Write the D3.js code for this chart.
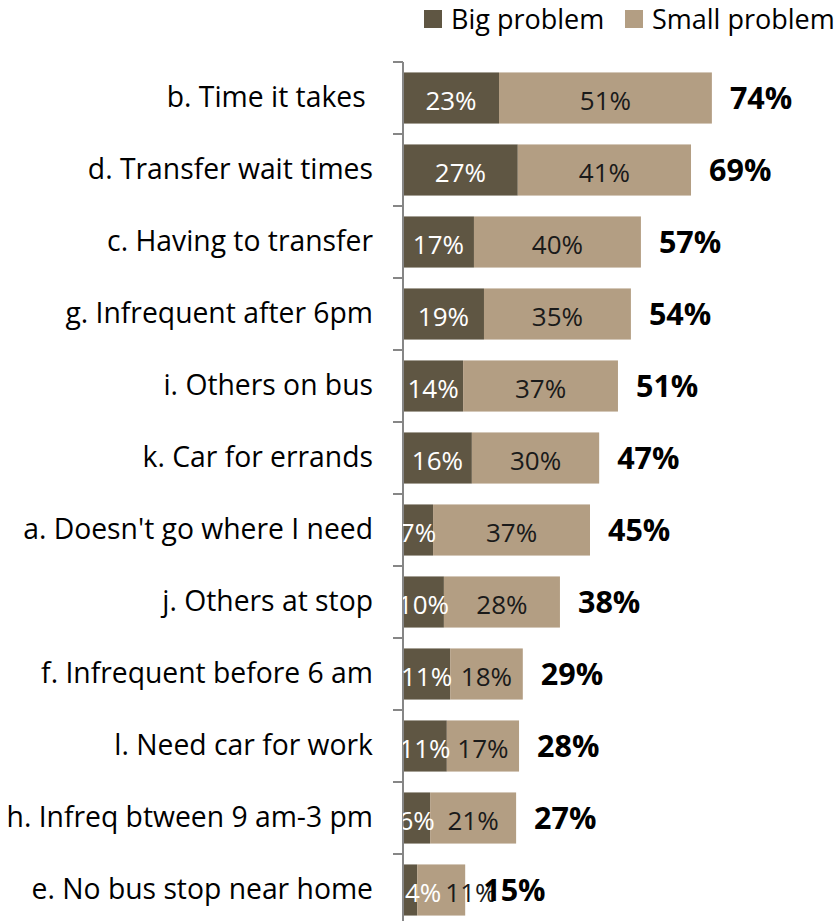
<!DOCTYPE html>
<html><head><meta charset="utf-8">
<script src="https://cdn.jsdelivr.net/npm/d3@7"></script>
<style>body{margin:0;background:#fff}svg{display:block}</style>
</head><body>
<script>
const categories = ["b. Time it takes ","d. Transfer wait times","c. Having to transfer","g. Infrequent after 6pm","i. Others on bus","k. Car for errands","a. Doesn't go where I need","j. Others at stop","f. Infrequent before 6 am","l. Need car for work","h. Infreq btween 9 am-3 pm","e. No bus stop near home"];
const bigValues   = [23.0, 27.5, 17.0, 19.4, 14.4, 16.5, 7.2, 9.8, 11.3, 10.5, 6.5, 3.4];
const smallValues = [51.0, 41.5, 40.0, 35.2, 37.1, 30.5, 37.6, 27.8, 17.4, 17.3, 20.6, 11.5];
const bigLabels   = ["23%","27%","17%","19%","14%","16%","7%","10%","11%","11%","6%","4%"];
const smallLabels = ["51%","41%","40%","35%","37%","30%","37%","28%","18%","17%","21%","11%"];
const totalLabels = ["74%","69%","57%","54%","51%","47%","45%","38%","29%","28%","27%","15%"];
const seriesNames = ["Big problem","Small problem"];
const colors = ["#5f5643","#b39e83"];

const W=840,H=921;
const svg=d3.select("body").append("svg").attr("width",W).attr("height",H);
const font="'Open Sans', sans-serif";
const x0=403;
const x=d3.scaleLinear().domain([0,100]).range([x0,x0+417.4]);
const y=d3.scaleBand().domain(categories).range([62,926]).paddingInner(0.29).paddingOuter(0.145);

const data=categories.map((c,i)=>({c,big:bigValues[i],small:smallValues[i],bl:bigLabels[i],sl:smallLabels[i],tl:totalLabels[i]}));

svg.append("defs").append("clipPath").attr("id","plot").append("rect")
  .attr("x",x0).attr("y",0).attr("width",W-x0).attr("height",H);

const g=svg.append("g");
g.selectAll("rect.big").data(data).join("rect").attr("x",x(0)).attr("y",d=>y(d.c))
 .attr("width",d=>x(d.big)-x(0)).attr("height",y.bandwidth()).attr("fill",colors[0]);
g.selectAll("rect.small").data(data).join("rect").attr("x",d=>x(d.big)).attr("y",d=>y(d.c))
 .attr("width",d=>x(d.big+d.small)-x(d.big)).attr("height",y.bandwidth()).attr("fill",colors[1]);

const axis=d3.axisLeft(y).tickSize(0).tickFormat("");
const ag=svg.append("g").attr("transform",`translate(${x0},0)`).call(axis);
ag.select(".domain").attr("stroke","#868686").attr("stroke-width",2).attr("d",`M0,62V926`);
const bounds=[62].concat(categories.map((c,i)=>62+(i+1)*72));
ag.selectAll("line.tk").data(bounds).join("line").attr("x1",-10).attr("x2",0)
 .attr("y1",d=>d).attr("y2",d=>d).attr("stroke","#868686").attr("stroke-width",2);

svg.selectAll("text.cat").data(data).join("text").attr("x",373).attr("y",d=>y(d.c)+y.bandwidth()/2-1.5)
 .attr("dy","0.357em").attr("text-anchor","end").attr("font-family",font).attr("font-size",28.3)
 .attr("fill","#000").attr("xml:space","preserve").text(d=>d.c);

// segment labels (Excel-like placement)
const blG=svg.append("g").attr("clip-path","url(#plot)");
const bl=blG.selectAll("text").data(data).join("text").attr("y",d=>y(d.c)+y.bandwidth()/2+2.5)
 .attr("dy","0.357em").attr("text-anchor","middle").attr("font-family",font).attr("font-size",26)
 .attr("fill","#fff").text(d=>d.bl);
const bEnds=[];
bl.each(function(d,i){
  const w=this.getComputedTextLength();
  let cx=(x(0)+x(d.big))/2;
  if(cx-w/2 < x0-8) cx=x0+2+w/2;
  d3.select(this).attr("x",cx);
  bEnds[i]=cx+w/2;
});
const sl=svg.selectAll("text.sl").data(data).join("text").attr("class","sl").attr("y",d=>y(d.c)+y.bandwidth()/2+2.5)
 .attr("dy","0.357em").attr("text-anchor","middle").attr("font-family",font).attr("font-size",26)
 .attr("fill","#1a1a1a").text(d=>d.sl);
sl.each(function(d,i){
  const w=this.getComputedTextLength();
  let cx=(x(d.big)+x(d.big+d.small))/2;
  if(cx-w/2 < bEnds[i]+4) cx=bEnds[i]+4+w/2;
  d3.select(this).attr("x",cx);
});
svg.selectAll("text.tl").data(data).join("text").attr("class","tl").attr("x",d=>x(d.big+d.small)+18).attr("y",d=>y(d.c)+y.bandwidth()/2)
 .attr("dy","0.357em").attr("text-anchor","start").attr("font-family",font).attr("font-size",30.5).attr("font-weight","bold")
 .attr("fill","#000").text(d=>d.tl);

const lg=svg.append("g");
const lx=[424,625];
seriesNames.forEach((n,i)=>{
  lg.append("rect").attr("x",lx[i]).attr("y",10).attr("width",18).attr("height",18).attr("fill",colors[i]);
  lg.append("text").attr("x",lx[i]+27).attr("y",19).attr("dy","0.357em").attr("font-family",font).attr("font-size",27).attr("fill","#000").text(n);
});
</script>
</body></html>
